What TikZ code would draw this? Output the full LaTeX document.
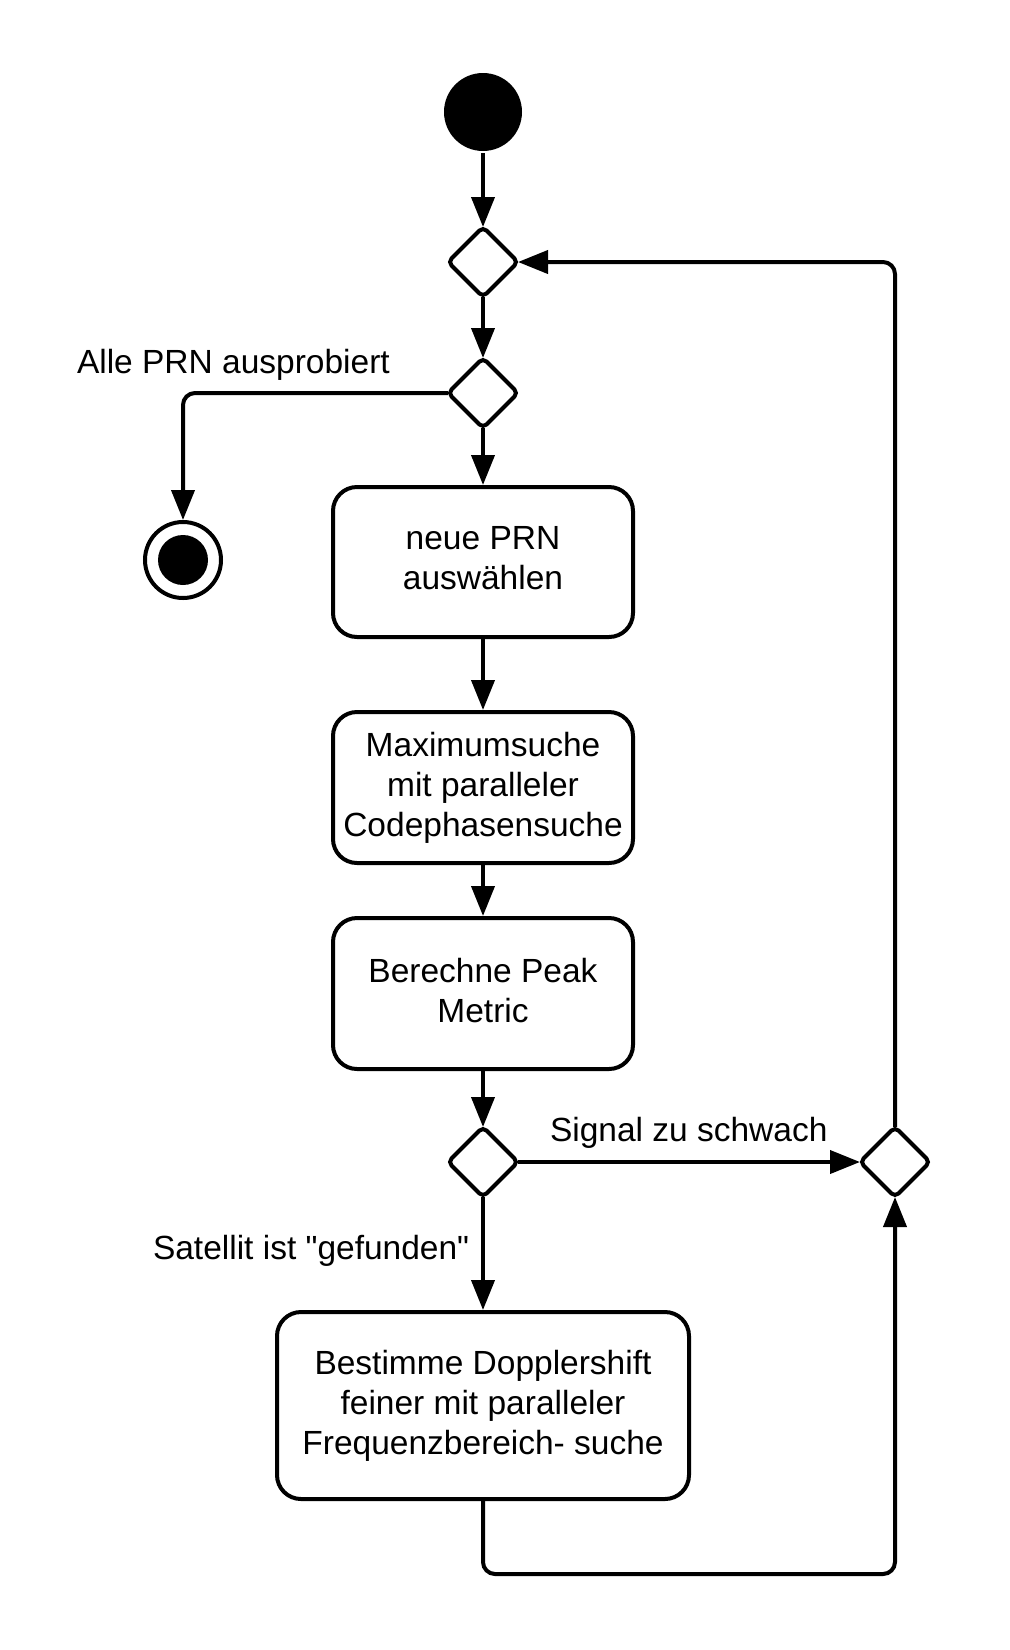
\documentclass[tikz,border=0pt]{standalone}
\usepackage{fontspec}
\defaultfontfeatures[\rmfamily,\sffamily]{}
\setmainfont{Liberation Sans}[Ligatures=ResetAll]
\usetikzlibrary{shapes.geometric, arrows.meta, positioning}

\begin{document}
\begin{tikzpicture}[x=0.5pt,y=0.5pt,yscale=-1,xscale=1,
  line width=2pt,
  font=\fontsize{16.75pt}{20pt}\selectfont,
  aktion/.style={draw, rectangle, rounded corners=12pt, minimum width=150pt, align=center, inner sep=2pt, text depth=3.6pt},
  raute/.style={draw, diamond, rounded corners=2.5pt, minimum width=35pt, minimum height=35pt, inner sep=0pt, outer sep=0pt},
  pfeil/.style={-{Triangle[length=15pt,width=11.5pt]}},
  marke/.style={inner sep=0pt, anchor=base west}]
\useasboundingbox (0,0) rectangle (1009,1650);

%Shape: Circle [start]
\node [circle, fill=black, minimum size=39pt, inner sep=0pt] (start) at (483,112) {};
%Shape: Diamond [merge]
\node [raute] (merge) at (483,262) {};
%Shape: Diamond [alleDa]
\node [raute] (alleDa) at (483,393) {};
%Shape: Circle [ende]
\node [circle, draw, minimum size=38pt, inner sep=0pt] (ende) at (183,560) {};
\fill (ende.center) circle [radius=12.5pt];

%Shape: Rounded Rect [neuePRN]
\node [aktion, minimum height=75pt] (neuePRN) at (483,562) {neue PRN\\auswählen};
%Shape: Rounded Rect [maxSuche]
\node [aktion, minimum height=75.5pt] (maxSuche) at (483,787.5) {Maximumsuche\\mit paralleler\\Codephasensuche};
%Shape: Rounded Rect [peak]
\node [aktion, minimum height=75.5pt] (peak) at (483,993.5) {Berechne Peak\\Metric};
%Shape: Diamond [pruefen]
\node [raute] (pruefen) at (483,1162) {};
%Shape: Diamond [schwach]
\node [raute] (schwach) at (895,1162) {};
%Shape: Rounded Rect [doppler]
\node [aktion, minimum width=206pt, minimum height=93.5pt] (doppler) at (483,1405.5) {Bestimme Dopplershift\\feiner mit paralleler\\Frequenzbereich- suche};
\coordinate (unten) at (895,1574);

%Straight Lines
\draw [pfeil] (start) -- (merge);
\draw [pfeil] (merge) -- (alleDa);
\draw [pfeil] (alleDa) -- (neuePRN);
\draw [pfeil, rounded corners=6pt] (alleDa.west) -| (ende.north);
\draw [pfeil] (neuePRN) -- (maxSuche);
\draw [pfeil] (maxSuche) -- (peak);
\draw [pfeil] (peak) -- (pruefen);
\draw [pfeil] (pruefen) -- (doppler);
\draw [pfeil] (pruefen.east) -- (schwach.west);
\draw [pfeil, rounded corners=6pt] (doppler.south) |- (unten) -- (schwach.south);
\draw [pfeil, rounded corners=6pt] (schwach.north) |- (merge.east);

% Text Node
\node [marke] (lblAlle) at (75,373) {Alle PRN ausprobiert};
% Text Node
\node [marke] (lblSchwach) at (548,1141) {Signal zu schwach};
% Text Node
\node [marke] (lblGefunden) at (151,1259) {Satellit ist "gefunden"};

\end{tikzpicture}
\end{document}
